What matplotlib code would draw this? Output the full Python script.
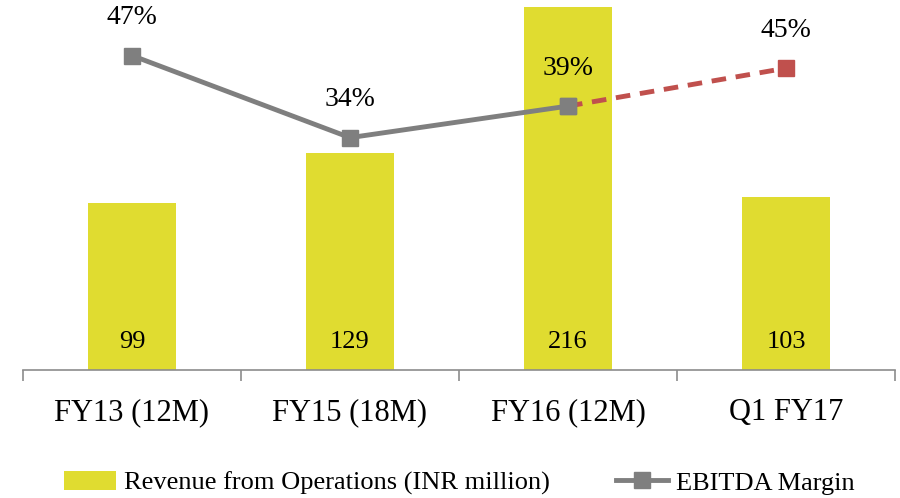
import numpy as np
import matplotlib
matplotlib.use("Agg")
from matplotlib import pyplot as plt
from matplotlib.lines import Line2D
from matplotlib.patches import Patch

# Data
categories = ["FY13 (12M)", "FY15 (18M)", "FY16 (12M)", "Q1 FY17"]
revenue = [99, 129, 216, 103]
ebitda_margin = [47, 34, 39, 45]

plt.rcParams['font.family'] = ['Liberation Serif', 'DejaVu Serif']

bar_color = '#E0DC30'
line_color = '#7F7F7F'
proj_color = '#C0504D'

fig = plt.figure(figsize=(9, 4.98), dpi=100)
ax = fig.add_axes([23/900, 1 - 370/498, 872/900, 370/498])
x = np.arange(len(categories))

ax.bar(x, revenue, width=0.4, color=bar_color, zorder=1)
for xi, v in zip(x, revenue):
    ax.text(xi, 16.6, str(v), ha='center', va='center', fontsize=19)

ax.set_xlim(-0.5, len(categories) - 0.5)
ax.set_ylim(0, 220)
ax.set_yticks([])
ax.set_xticks(np.arange(-0.5, len(categories), 1.0))
ax.set_xticklabels([])
ax.set_xticks(x, minor=True)
ax.set_xticklabels(categories, minor=True, fontsize=22)
ax.tick_params(axis='x', which='major', direction='out', length=8, width=1.2, color='#8c8c8c')
ax.tick_params(axis='x', which='minor', length=0, pad=20)
for side in ['top', 'right', 'left']:
    ax.spines[side].set_visible(False)
ax.spines['bottom'].set_color('#8c8c8c')
ax.spines['bottom'].set_linewidth(1.2)

# EBITDA margin on secondary axis
ax2 = ax.twinx()
ax2.set_ylim(-2.8, 55.8)
ax2.axis('off')
ax2.plot(x[:3], ebitda_margin[:3], color=line_color, lw=3.5, marker='s', ms=12,
         zorder=3)
ax2.plot(x[2:], ebitda_margin[2:], color=proj_color, lw=3.5, ls=(0, (3, 2)), zorder=2)
ax2.plot(x[3], ebitda_margin[3], color=proj_color, marker='s', ms=12, ls='none', zorder=3)
ax2.plot(x[2], ebitda_margin[2], color=line_color, marker='s', ms=12, ls='none', zorder=4)
for xi, v in zip(x, ebitda_margin):
    ax2.text(xi, v + 6.0, f"{v}%", ha='center', va='center', fontsize=20)

handles = [Patch(facecolor=bar_color, edgecolor='none'),
           Line2D([0], [0], color=line_color, lw=3.5, marker='s', ms=12)]
fig.legend(handles, ["Revenue from Operations (INR million)", "EBITDA Margin"],
           loc='center', bbox_to_anchor=(0.51, 1 - 483/498), ncol=2, frameon=False,
           fontsize=19, handlelength=2.0, handleheight=0.7, columnspacing=2.5,
           handletextpad=0.28)

fig.savefig("out.png", dpi=100)
